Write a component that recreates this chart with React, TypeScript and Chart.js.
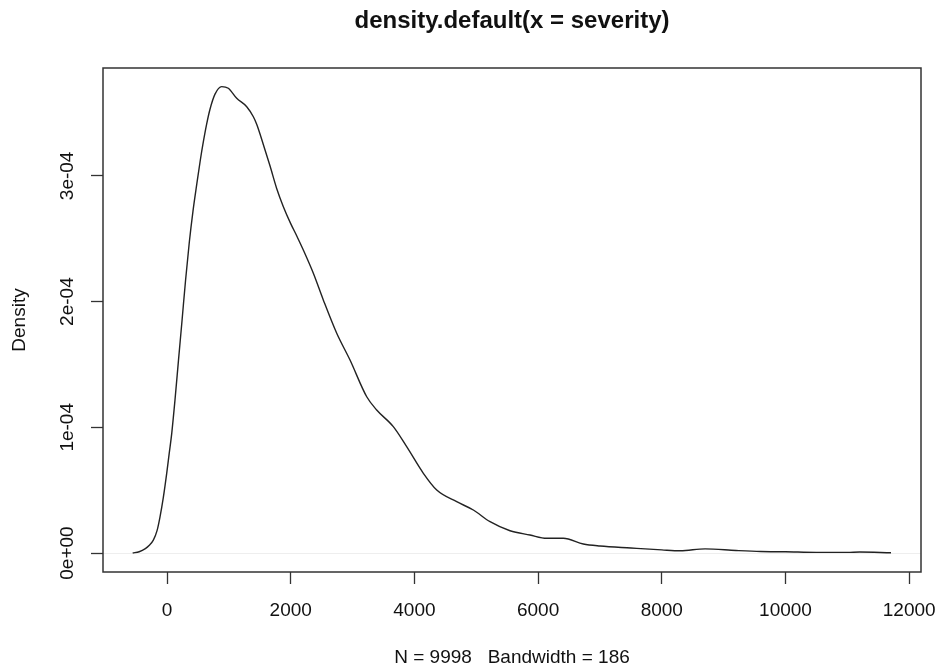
import React, { useEffect, useRef } from "react";
import { Chart, registerables } from "chart.js";

Chart.register(...registerables);

const TITLE = "density.default(x = severity)";
const X_TITLE = "N = 9998   Bandwidth = 186";
const Y_TITLE = "Density";

const DENSITY_X = [
  -555, -450, -350, -290, -221, -160, -113, -60, -5, 35, 76, 129, 185, 243, 300, 360, 420, 480,
  540, 587, 640, 695, 776, 884, 991, 1127, 1289, 1396, 1450, 1557, 1665, 1773, 1881, 2000, 2100,
  2204, 2366, 2527, 2744, 2959, 3229, 3390, 3659, 3875, 4145, 4361, 4684, 4953, 5223, 5546,
  5869, 6139, 6408, 6731, 7001, 7500, 8000, 8300, 8700, 9200, 9600, 10000, 10500, 11000,
  11200, 11706,
];
const DENSITY_Y = [
  0, 0.1e-5, 0.35e-5, 0.6e-5, 1.03e-5, 1.8e-5, 2.88e-5, 4.4e-5, 6.33e-5, 7.9e-5, 9.5e-5,
  1.217e-4, 1.53e-4, 1.85e-4, 2.17e-4, 2.47e-4, 2.72e-4, 2.93e-4, 3.13e-4, 3.27e-4, 3.41e-4,
  3.53e-4, 3.65e-4, 3.71e-4, 3.697e-4, 3.617e-4, 3.55e-4, 3.47e-4, 3.41e-4, 3.25e-4, 3.08e-4,
  2.9e-4, 2.755e-4, 2.62e-4, 2.52e-4, 2.41e-4, 2.225e-4, 2.013e-4, 1.748e-4, 1.535e-4,
  1.243e-4, 1.138e-4, 1.005e-4, 8.46e-5, 6.34e-5, 5.01e-5, 4.08e-5, 3.42e-5, 2.49e-5, 1.77e-5,
  1.43e-5, 1.17e-5, 1.17e-5, 7.2e-6, 5.6e-6, 4.0e-6, 2.5e-6, 1.8e-6, 3.3e-6, 2.0e-6, 1.2e-6,
  1.0e-6, 0.5e-6, 0.5e-6, 0.8e-6, 0.2e-6,
];

const X_TICKS = [0, 2000, 4000, 6000, 8000, 10000, 12000];
const X_TICK_LABELS = ["0", "2000", "4000", "6000", "8000", "10000", "12000"];
const Y_TICKS = [0, 1e-4, 2e-4, 3e-4];
const Y_TICK_LABELS = ["0e+00", "1e-04", "2e-04", "3e-04"];

const X_MIN = -1035;
const X_MAX = 12191;
const Y_MIN = -1.51e-5;
const Y_MAX = 3.858e-4;

const FONT = "'Liberation Sans', Arial, Helvetica, sans-serif";
const INK = "#222";

const boxPlugin = {
  id: "rbox",
  afterDraw(chart: any) {
    const { ctx, chartArea } = chart;
    ctx.save();
    ctx.strokeStyle = "#333";
    ctx.lineWidth = 1.5;
    ctx.strokeRect(chartArea.left, chartArea.top, chartArea.right - chartArea.left, chartArea.bottom - chartArea.top);
    ctx.restore();
  },
};

export default function App() {
  const ref = useRef<HTMLCanvasElement | null>(null);

  useEffect(() => {
    if (!ref.current) return;
    const points = DENSITY_X.map((x, i) => ({ x, y: DENSITY_Y[i] }));
    const chart = new Chart(ref.current, {
      type: "scatter",
      data: {
        datasets: [
          {
            data: points,
            showLine: true,
            borderColor: INK,
            borderWidth: 1.4,
            pointRadius: 0,
            cubicInterpolationMode: "monotone",
            fill: false,
          } as any,
        ],
      },
      options: {
        responsive: false,
        animation: false,
        devicePixelRatio: 1,
        layout: { padding: { left: 0, right: 21, top: 0, bottom: 0 } },
        plugins: {
          legend: { display: false },
          tooltip: { enabled: false },
          title: {
            display: true,
            fullSize: false,
            text: TITLE,
            color: "#111",
            font: { family: FONT, size: 24, weight: "bold" },
            padding: { top: 6.6, bottom: 32.6 },
          },
        },
        scales: {
          x: {
            type: "linear",
            min: X_MIN,
            max: X_MAX,
            afterBuildTicks: (scale: any) => {
              scale.ticks = X_TICKS.map((v) => ({ value: v }));
            },
            afterFit: (scale: any) => {
              scale.height = 98;
              scale.paddingLeft = 0;
              scale.paddingRight = 0;
            },
            border: { display: false },
            grid: {
              drawOnChartArea: false,
              drawTicks: true,
              tickLength: 12,
              tickColor: "#333",
              tickWidth: 1.3,
              color: "transparent",
            },
            ticks: {
              color: "#111",
              font: { family: FONT, size: 19 },
              padding: 15.5,
              maxRotation: 0,
              minRotation: 0,
              autoSkip: false,
              callback: (v: any) => {
                const i = X_TICKS.indexOf(Number(v));
                return i >= 0 ? X_TICK_LABELS[i] : "";
              },
            },
            title: {
              display: true,
              text: X_TITLE,
              color: "#111",
              font: { family: FONT, size: 19 },
              padding: { top: 0, bottom: 1 },
            },
          },
          y: {
            type: "linear",
            min: Y_MIN,
            max: Y_MAX,
            afterBuildTicks: (scale: any) => {
              scale.ticks = Y_TICKS.map((v) => ({ value: v }));
            },
            afterFit: (scale: any) => {
              scale.width = 103;
              scale.paddingTop = 0;
              scale.paddingBottom = 0;
            },
            border: { display: false },
            grid: {
              drawOnChartArea: true,
              drawTicks: true,
              tickLength: 12,
              tickColor: "#333",
              tickWidth: 1.3,
              lineWidth: 1,
              color: (c: any) => (c.tick && c.tick.value === 0 ? "#eeeeee" : "transparent"),
            },
            ticks: {
              color: "#111",
              font: { family: FONT, size: 19 },
              padding: -3,
              minRotation: 90,
              maxRotation: 90,
              crossAlign: "center",
              autoSkip: false,
              callback: (v: any) => {
                const i = Y_TICKS.indexOf(Number(v));
                return i >= 0 ? Y_TICK_LABELS[i] : "";
              },
            },
            title: {
              display: true,
              text: Y_TITLE,
              color: "#111",
              font: { family: FONT, size: 19 },
              padding: { top: 8.6, bottom: 0 },
            },
          },
        },
      } as any,
      plugins: [boxPlugin],
    });
    return () => chart.destroy();
  }, []);

  return (
    <div style={{ position: "fixed", left: 0, top: 0, width: 942, height: 670, background: "#fff" }}>
      <canvas ref={ref} width={942} height={670} style={{ width: 942, height: 670, display: "block" }} />
    </div>
  );
}
